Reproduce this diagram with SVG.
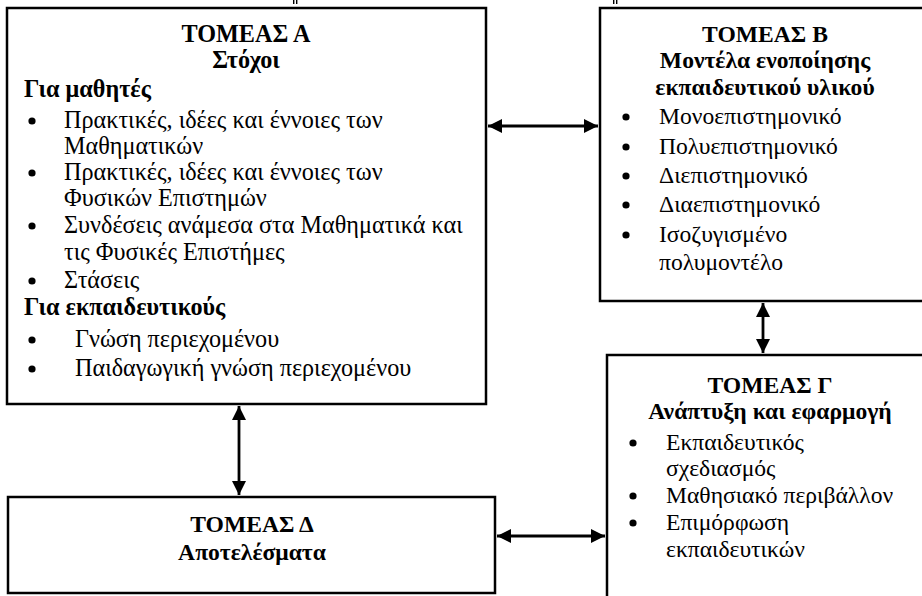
<svg xmlns="http://www.w3.org/2000/svg" width="922" height="596" viewBox="0 0 922 596">
  <defs>
    <marker id="head" viewBox="0 0 10 10" refX="10" refY="5" markerWidth="5" markerHeight="5" markerUnits="strokeWidth" orient="auto-start-reverse">
      <path d="M0,0 L10,5 L0,10 Z" fill="#000"/>
    </marker>
    <style>
      .box { fill: #fff; stroke: #000; stroke-width: 2.5; }
      text { font-family: "Liberation Serif", Tinos, "Noto Serif", "DejaVu Serif", FreeSerif, "Times New Roman", serif; font-size: 23.6px; fill: #000; }
      .a text { font-size: 24.2px; }
      .t { font-weight: bold; text-anchor: middle; }
      .h { font-weight: bold; }
      .dot { fill: #000; }
      .link { stroke: #000; stroke-width: 2.8; fill: none; marker-start: url(#head); marker-end: url(#head); }
    </style>
  </defs>
  <rect width="922" height="596" fill="#fff"/>

  <!-- clipped marks at the top edge -->
  <g fill="#000">
    <rect x="293" y="0" width="1.4" height="4"/>
    <rect x="296" y="0" width="1.4" height="4"/>
    <rect x="613" y="0" width="1.4" height="4"/>
    <rect x="616" y="0" width="1.4" height="4"/>
  </g>

  <g id="connectors">
    <line class="link" x1="488" y1="126" x2="598" y2="126"/>
    <line class="link" x1="763" y1="303" x2="763" y2="353"/>
    <line class="link" x1="239" y1="406" x2="239" y2="495"/>
    <line class="link" x1="497" y1="536" x2="605" y2="536"/>
  </g>

  <g id="sector-a" class="a">
    <rect class="box" x="7" y="8" width="479" height="396"/>
    <text class="t" x="246" y="42">ΤΟΜΕΑΣ Α</text>
    <text class="t" x="246" y="68">Στόχοι</text>
    <text class="h" x="24" y="97">Για μαθητές</text>
    <circle class="dot" cx="32" cy="121" r="3.6"/><text x="64" y="128">Πρακτικές, ιδέες και έννοιες των</text>
    <text x="64" y="154">Μαθηματικών</text>
    <circle class="dot" cx="32" cy="173" r="3.6"/><text x="64" y="180">Πρακτικές, ιδέες και έννοιες των</text>
    <text x="64" y="206">Φυσικών Επιστημών</text>
    <circle class="dot" cx="32" cy="226" r="3.6"/><text x="64" y="233">Συνδέσεις ανάμεσα στα Μαθηματικά και</text>
    <text x="64" y="260">τις Φυσικές Επιστήμες</text>
    <circle class="dot" cx="32" cy="281" r="3.6"/><text x="64" y="288">Στάσεις</text>
    <text class="h" x="24" y="315">Για εκπαιδευτικούς</text>
    <circle class="dot" cx="32" cy="340" r="3.6"/><text x="75" y="347">Γνώση περιεχομένου</text>
    <circle class="dot" cx="32" cy="369" r="3.6"/><text x="75" y="376">Παιδαγωγική γνώση περιεχομένου</text>
  </g>

  <g id="sector-b">
    <rect class="box" x="600" y="8" width="330" height="293"/>
    <text class="t" x="765" y="42">ΤΟΜΕΑΣ Β</text>
    <text class="t" x="765" y="68">Μοντέλα ενοποίησης</text>
    <text class="t" x="765" y="95">εκπαιδευτικού υλικού</text>
    <circle class="dot" cx="626" cy="117" r="3.6"/><text x="659" y="124">Μονοεπιστημονικό</text>
    <circle class="dot" cx="626" cy="147" r="3.6"/><text x="659" y="154">Πολυεπιστημονικό</text>
    <circle class="dot" cx="626" cy="176" r="3.6"/><text x="659" y="183">Διεπιστημονικό</text>
    <circle class="dot" cx="626" cy="205" r="3.6"/><text x="659" y="212">Διαεπιστημονικό</text>
    <circle class="dot" cx="626" cy="235" r="3.6"/><text x="659" y="242">Ισοζυγισμένο</text>
    <text x="659" y="270">πολυμοντέλο</text>
  </g>

  <g id="sector-g">
    <rect class="box" x="607" y="355" width="323" height="260"/>
    <text class="t" x="770" y="393">ΤΟΜΕΑΣ Γ</text>
    <text class="t" x="770" y="419">Ανάπτυξη και εφαρμογή</text>
    <circle class="dot" cx="633" cy="443" r="3.6"/><text x="666" y="450">Εκπαιδευτικός</text>
    <text x="666" y="476">σχεδιασμός</text>
    <circle class="dot" cx="633" cy="496" r="3.6"/><text x="666" y="503">Μαθησιακό περιβάλλον</text>
    <circle class="dot" cx="633" cy="523" r="3.6"/><text x="666" y="530">Επιμόρφωση</text>
    <text x="666" y="557">εκπαιδευτικών</text>
  </g>

  <g id="sector-d">
    <rect class="box" x="8" y="497" width="487" height="96"/>
    <text class="t" x="252" y="532">ΤΟΜΕΑΣ Δ</text>
    <text class="t" x="252" y="560">Αποτελέσματα</text>
  </g>
</svg>
